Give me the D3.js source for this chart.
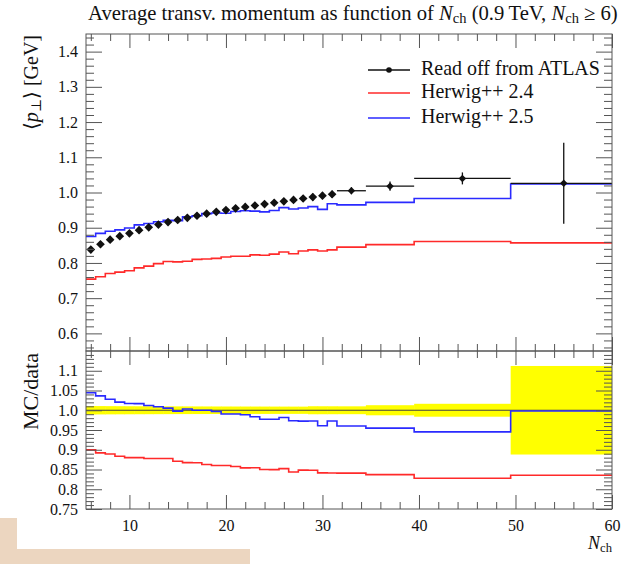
<!DOCTYPE html>
<html>
<head>
<meta charset="utf-8">
<script src="https://cdn.jsdelivr.net/npm/d3@7"></script>
<style>
  html, body { margin: 0; padding: 0; background: #fff; }
  svg { display: block; }
  text { font-family: "Liberation Serif", "DejaVu Serif", serif; fill: #111; }
</style>
</head>
<body>
<script>
// ---------------- data ----------------
const nch = [6,7,8,9,10,11,12,13,14,15,16,17,18,19,20,21,22,23,24,25,26,27,28,29,30,31,33,37,44.5,55];
const binLow  = [5.5,6.5,7.5,8.5,9.5,10.5,11.5,12.5,13.5,14.5,15.5,16.5,17.5,18.5,19.5,20.5,21.5,22.5,23.5,24.5,25.5,26.5,27.5,28.5,29.5,30.5,31.5,34.5,39.5,49.5];
const binHigh = [6.5,7.5,8.5,9.5,10.5,11.5,12.5,13.5,14.5,15.5,16.5,17.5,18.5,19.5,20.5,21.5,22.5,23.5,24.5,25.5,26.5,27.5,28.5,29.5,30.5,31.5,34.5,39.5,49.5,60];
const atlas = [0.838,0.853,0.866,0.876,0.884,0.893,0.901,0.909,0.916,0.922,0.928,0.934,0.940,0.945,0.950,0.955,0.959,0.963,0.967,0.971,0.975,0.979,0.983,0.987,0.991,0.995,1.005,1.018,1.040,1.026];
const atlasErr = [0.009,0.009,0.009,0.009,0.009,0.009,0.009,0.009,0.009,0.009,0.009,0.009,0.009,0.009,0.009,0.009,0.009,0.009,0.009,0.009,0.009,0.009,0.009,0.010,0.010,0.010,0.010,0.013,0.017,0.115];
const herwig24 = [0.754,0.761,0.770,0.774,0.778,0.786,0.791,0.798,0.804,0.803,0.805,0.810,0.811,0.813,0.817,0.819,0.819,0.823,0.822,0.825,0.831,0.826,0.834,0.837,0.834,0.837,0.845,0.852,0.861,0.857];
const herwig25 = [0.875,0.884,0.890,0.894,0.899,0.908,0.912,0.917,0.921,0.920,0.931,0.934,0.940,0.942,0.941,0.946,0.948,0.947,0.945,0.949,0.957,0.953,0.956,0.960,0.952,0.968,0.965,0.972,0.983,1.024];

const xTicksMajor = [10,20,30,40,50,60];
const xTickLabels = ["10","20","30","40","50","60"];
const mainYTicks = [0.6,0.7,0.8,0.9,1.0,1.1,1.2,1.3,1.4];
const mainYLabels = ["0.6","0.7","0.8","0.9","1.0","1.1","1.2","1.3","1.4"];
const ratioYTicks = [0.75,0.8,0.85,0.9,0.95,1.0,1.05,1.1];
const ratioYLabels = ["0.75","0.8","0.85","0.9","0.95","1.0","1.05","1.1"];

const seriesNames = ["Read off from ATLAS","Herwig++ 2.4","Herwig++ 2.5"];
const colors = {data:"#111", h24:"#ff2a2a", h25:"#2a2aff", band:"#ffff00"};

// ---------------- layout ----------------
const W = 625, H = 564;
const L = 86, R = 612, mainTop = 34, mainBot = 351, ratioBot = 509;

const svg = d3.select("body").append("svg").attr("width", W).attr("height", H);

// background decoration in the bottom-left corner of the reference picture
svg.append("rect").attr("x",0).attr("y",518).attr("width",17).attr("height",46).attr("fill","#ecd6c0");
svg.append("rect").attr("x",0).attr("y",549).attr("width",250).attr("height",15).attr("fill","#ecd6c0");

const x = d3.scaleLinear().domain([5.5, 60]).range([L, R]);
const yMain = d3.scaleLinear().domain([0.55, 1.45]).range([mainBot, mainTop]);
const yRatio = d3.scaleLinear().domain([0.75, 1.15]).range([ratioBot, mainBot]);

function fit(sel, target) {
  const w = sel.node().getComputedTextLength();
  const fs = parseFloat(sel.attr("font-size"));
  sel.attr("font-size", (fs * target / w).toFixed(2));
}

// ---------------- step histogram helper ----------------
function stepPts(vals, f) {
  const pts = vals.map((v,i) => [binLow[i], f(v,i)]);
  pts.push([binHigh[vals.length-1], f(vals[vals.length-1], vals.length-1)]);
  return pts;
}

// ---------------- main panel ----------------
const gMain = svg.append("g");
svg.append("clipPath").attr("id","cm").append("rect")
  .attr("x",L).attr("y",mainTop).attr("width",R-L).attr("height",mainBot-mainTop);

const stepLineMain = d3.line().x(d=>x(d[0])).y(d=>yMain(d[1])).curve(d3.curveStepAfter);
const lines = gMain.append("g").attr("clip-path","url(#cm)");
lines.append("path").attr("d", stepLineMain(stepPts(herwig24, v=>v)))
  .attr("fill","none").attr("stroke",colors.h24).attr("stroke-width",1.6);
lines.append("path").attr("d", stepLineMain(stepPts(herwig25, v=>v)))
  .attr("fill","none").attr("stroke",colors.h25).attr("stroke-width",1.6);

// data points
const pts = lines.append("g");
atlas.forEach((v,i) => {
  const cx = x(nch[i]), cy = yMain(v);
  if (binHigh[i] - binLow[i] > 1.01) {
    pts.append("line").attr("x1",x(binLow[i])).attr("x2",x(binHigh[i]))
      .attr("y1",cy).attr("y2",cy).attr("stroke",colors.data).attr("stroke-width",1.3);
  }
  pts.append("line").attr("x1",cx).attr("x2",cx)
    .attr("y1",yMain(v-atlasErr[i])).attr("y2",yMain(v+atlasErr[i]))
    .attr("stroke",colors.data).attr("stroke-width",1.3);
  const wide = binHigh[i] - binLow[i] > 1.01;
  pts.append("path").attr("d", d3.symbol(d3.symbolDiamond2, wide ? 36 : 48)())
    .attr("transform",`translate(${cx},${cy})`).attr("fill",colors.data);
});

// ---------------- ratio panel ----------------
svg.append("clipPath").attr("id","cr").append("rect")
  .attr("x",L).attr("y",mainBot).attr("width",R-L).attr("height",ratioBot-mainBot);
const gRatio = svg.append("g").attr("clip-path","url(#cr)");
gRatio.selectAll("rect.band").data(atlas).enter().append("rect")
  .attr("x",(d,i)=>x(binLow[i]))
  .attr("width",(d,i)=>x(binHigh[i])-x(binLow[i])+0.5)
  .attr("y",(d,i)=>yRatio(1 + atlasErr[i]/d))
  .attr("height",(d,i)=>yRatio(1 - atlasErr[i]/d) - yRatio(1 + atlasErr[i]/d))
  .attr("fill",colors.band);
const stepLineRatio = d3.line().x(d=>x(d[0])).y(d=>yRatio(d[1])).curve(d3.curveStepAfter);
gRatio.append("path").attr("d", stepLineRatio(stepPts(atlas, v=>1)))
  .attr("fill","none").attr("stroke","#444").attr("stroke-width",1.2);
gRatio.append("path").attr("d", stepLineRatio(stepPts(herwig24, (v,i)=>v/atlas[i])))
  .attr("fill","none").attr("stroke",colors.h24).attr("stroke-width",1.6);
gRatio.append("path").attr("d", stepLineRatio(stepPts(herwig25, (v,i)=>v/atlas[i])))
  .attr("fill","none").attr("stroke",colors.h25).attr("stroke-width",1.6);

// ---------------- frames & ticks ----------------
const frameColor = "#555";
function frame(y0, y1) {
  svg.append("rect").attr("x",L).attr("y",y0).attr("width",R-L).attr("height",y1-y0)
    .attr("fill","none").attr("stroke",frameColor).attr("stroke-width",1);
}
frame(mainTop, mainBot);
frame(mainBot, ratioBot);

function ticks(axisFn, scale, values, size, transform) {
  const g = svg.append("g").attr("transform", transform)
    .call(axisFn(scale).tickValues(values).tickSize(size).tickFormat(""));
  g.select(".domain").remove();
  g.selectAll("line").attr("stroke", frameColor).attr("stroke-width", 1);
  return g;
}
const xMinor = d3.range(6, 60.01, 2).filter(v => v % 10 !== 0);
const yMainMinor = d3.range(0.56, 1.45, 0.02).filter(v => Math.abs(v*10 - Math.round(v*10)) > 0.01);
const yRatioMinor = d3.range(0.76, 1.15, 0.01).filter(v => Math.abs(v*20 - Math.round(v*20)) > 0.01);

[[mainTop, mainBot, yMain, mainYTicks, yMainMinor],[mainBot, ratioBot, yRatio, ratioYTicks, yRatioMinor]].forEach(([t,b,ys,maj,mn]) => {
  ticks(d3.axisTop, x, xTicksMajor, -14, `translate(0,${t})`);
  ticks(d3.axisTop, x, xMinor, -7, `translate(0,${t})`);
  ticks(d3.axisBottom, x, xTicksMajor, -14, `translate(0,${b})`);
  ticks(d3.axisBottom, x, xMinor, -7, `translate(0,${b})`);
  ticks(d3.axisLeft, ys, maj, -16, `translate(${L},0)`);
  ticks(d3.axisLeft, ys, mn, -8, `translate(${L},0)`);
  ticks(d3.axisRight, ys, maj, -16, `translate(${R},0)`);
  ticks(d3.axisRight, ys, mn, -8, `translate(${R},0)`);
});

// tick labels
function yLabels(scale, values, labels) {
  const g = svg.append("g").attr("transform",`translate(${L},0)`)
    .call(d3.axisLeft(scale).tickValues(values).tickSize(0).tickPadding(8)
      .tickFormat((d,i)=>labels[i]));
  g.select(".domain").remove();
  g.selectAll("text").attr("font-size",16).attr("font-family","Liberation Serif, serif").attr("fill","#111");
}
yLabels(yMain, mainYTicks, mainYLabels);
yLabels(yRatio, ratioYTicks, ratioYLabels);

const gx = svg.append("g").attr("transform",`translate(0,${ratioBot})`)
  .call(d3.axisBottom(x).tickValues(xTicksMajor).tickSize(0).tickPadding(11)
    .tickFormat((d,i)=>xTickLabels[i]));
gx.select(".domain").remove();
gx.selectAll("text").attr("font-size",16).attr("font-family","Liberation Serif, serif").attr("fill","#111");

// ---------------- titles & axis labels ----------------
const title = svg.append("text").attr("x",88).attr("y",20).attr("font-size",16);
title.append("tspan").text("Average transv. momentum as function of ");
title.append("tspan").attr("font-style","italic").text("N");
title.append("tspan").attr("font-size","0.7em").attr("dy",3).text("ch");
title.append("tspan").attr("dy",-3).text(" (0.9\u2009TeV, ");
title.append("tspan").attr("font-style","italic").text("N");
title.append("tspan").attr("font-size","0.7em").attr("dy",3).text("ch");
title.append("tspan").attr("dy",-3).text(" \u2265 6)");
fit(title, 530);

const yl = svg.append("text").attr("transform",`translate(38,${mainTop+1}) rotate(-90)`)
  .attr("text-anchor","end").attr("font-size",15);
yl.append("tspan").text("\u27E8");
yl.append("tspan").attr("font-style","italic").text("p");
yl.append("tspan").attr("font-size","0.7em").attr("dy",3).text("\u22A5");
yl.append("tspan").attr("dy",-3).text("\u27E9 [GeV]");
fit(yl, 95);

const rl = svg.append("text").attr("transform",`translate(38,${mainBot+2}) rotate(-90)`)
  .attr("text-anchor","end").attr("font-size",15).text("MC/data");
fit(rl, 77);

const xl = svg.append("text").attr("x",R).attr("y",549).attr("text-anchor","end").attr("font-size",18);
xl.append("tspan").attr("font-style","italic").text("N");
xl.append("tspan").attr("font-size","0.7em").attr("dy",3).text("ch");

// ---------------- legend ----------------
const legendRows = [
  {name: seriesNames[0], color: colors.data, marker: true},
  {name: seriesNames[1], color: colors.h24, marker: false},
  {name: seriesNames[2], color: colors.h25, marker: false}
];
const legY = [70, 93, 118];
const leg = svg.append("g");
legendRows.forEach((r,i) => {
  const yy = legY[i];
  leg.append("line").attr("x1",368).attr("x2",410).attr("y1",yy).attr("y2",yy)
    .attr("stroke",r.color).attr("stroke-width",r.marker?1.3:1.6);
  if (r.marker) leg.append("circle").attr("cx",389).attr("cy",yy).attr("r",2.8).attr("fill",r.color);
  const t = leg.append("text").attr("x",421).attr("y",yy+5).attr("font-size",16).text(r.name);
  if (i === 0) fit(t, 179);
});
const fs0 = leg.select("text").attr("font-size");
leg.selectAll("text").attr("font-size", fs0);
</script>
</body>
</html>
